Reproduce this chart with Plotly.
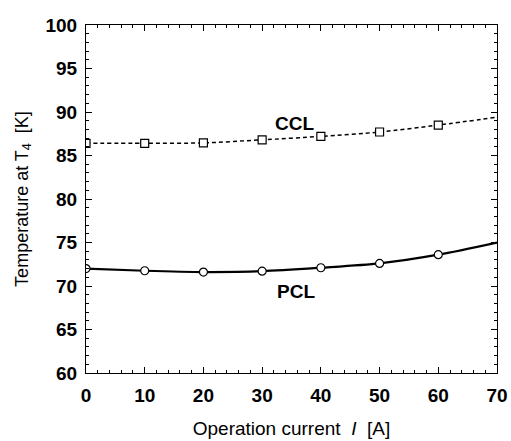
import plotly.graph_objects as go

current = [0, 10, 20, 30, 40, 50, 60, 70]
ccl_temp = [86.4, 86.4, 86.45, 86.8, 87.2, 87.7, 88.5, 89.4]
pcl_temp = [72.0, 71.75, 71.6, 71.7, 72.1, 72.6, 73.6, 75.0]
n_marked = 7  # markers drawn at 0..60 only

x_ticks = [0, 10, 20, 30, 40, 50, 60, 70]
y_ticks = [60, 65, 70, 75, 80, 85, 90, 95, 100]

FONT = "Liberation Sans, Arial, sans-serif"

fig = go.Figure()
fig.add_trace(go.Scatter(x=current, y=ccl_temp, mode="lines",
                         line=dict(color="black", width=1.5, dash="4px,3px", shape="spline",
                                   smoothing=0.8),
                         showlegend=False))
fig.add_trace(go.Scatter(x=current[:n_marked], y=ccl_temp[:n_marked], mode="markers",
                         marker=dict(symbol="square", size=8, color="white",
                                     line=dict(width=1.2, color="black")),
                         showlegend=False))
fig.add_trace(go.Scatter(x=current, y=pcl_temp, mode="lines",
                         line=dict(color="black", width=2.2, shape="spline", smoothing=0.8),
                         showlegend=False))
fig.add_trace(go.Scatter(x=current[:n_marked], y=pcl_temp[:n_marked], mode="markers",
                         marker=dict(symbol="circle", size=8, color="white",
                                     line=dict(width=1.2, color="black")),
                         showlegend=False))

fig.add_annotation(x=35.5, y=88.7, text="<b>CCL</b>", showarrow=False,
                   font=dict(family=FONT, size=19, color="black"))
fig.add_annotation(x=35.8, y=69.4, text="<b>PCL</b>", showarrow=False,
                   font=dict(family=FONT, size=19, color="black"))

axis_common = dict(showgrid=False, zeroline=False, showline=True, linecolor="black",
                   linewidth=1.2, mirror="ticks", ticks="inside", ticklen=6,
                   tickwidth=1.2, tickcolor="black", ticklabeloverflow="allow",
                   tickfont=dict(family=FONT, size=19, color="black", weight="bold"))

fig.update_xaxes(range=[0, 70], tickvals=x_ticks, ticklabelstandoff=5,
                 minor=dict(dtick=2, ticks="inside", ticklen=3, tickcolor="black"),
                 title=dict(text="Operation current  <i>I</i>  [A]",
                            font=dict(family=FONT, size=19, color="black"), standoff=16),
                 **axis_common)
fig.update_yaxes(range=[60, 100], tickvals=y_ticks, ticklabelstandoff=4,
                 minor=dict(dtick=1, ticks="inside", ticklen=3, tickcolor="black"),
                 title=dict(text="Temperature at T<sub>4</sub>  [K]",
                            font=dict(family=FONT, size=18, color="black"), standoff=12),
                 **axis_common)

fig.update_layout(width=511, height=441, margin=dict(l=86, r=3, t=25, b=68),
                  paper_bgcolor="white", plot_bgcolor="white")

fig.write_html("out.html", config={"displayModeBar": False},
               post_script="document.body.style.margin='0';document.body.style.overflow='hidden';")
